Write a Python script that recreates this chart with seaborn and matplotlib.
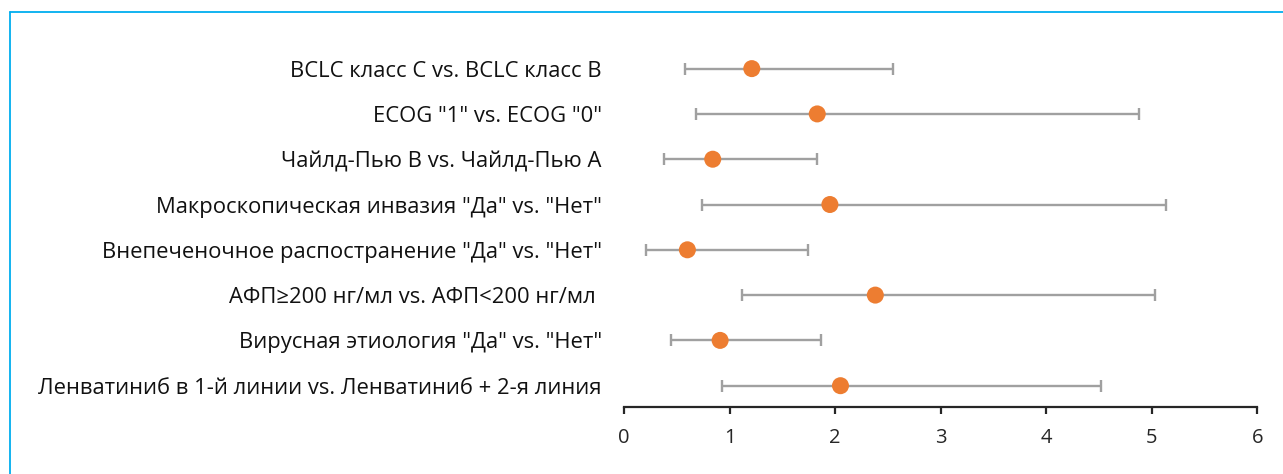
import matplotlib
matplotlib.use("Agg")
import matplotlib.pyplot as plt
import seaborn as sns
import pandas as pd
from matplotlib.lines import Line2D

# Forest plot data: hazard ratio with lower / upper bounds
factors = [
    'BCLC класс C vs. BCLC класс B',
    'ECOG "1" vs. ECOG "0"',
    'Чайлд-Пью В vs. Чайлд-Пью А',
    'Макроскопическая инвазия "Да" vs. "Нет"',
    'Внепеченочное распостранение "Да" vs. "Нет"',
    'АФП≥200 нг/мл vs. АФП<200 нг/мл ',
    'Вирусная этиология "Да" vs. "Нет"',
    'Ленватиниб в 1-й линии vs. Ленватиниб + 2-я линия',
]
hr = [1.21, 1.83, 0.84, 1.95, 0.60, 2.38, 0.91, 2.05]
ci_low = [0.58, 0.68, 0.38, 0.74, 0.21, 1.12, 0.44, 0.93]
ci_high = [2.55, 4.88, 1.83, 5.13, 1.74, 5.03, 1.87, 4.52]
x_ticks = [0, 1, 2, 3, 4, 5, 6]

df = pd.DataFrame({'factor': factors, 'hr': hr, 'low': ci_low, 'high': ci_high})

sns.set_theme(style="white")
plt.rcParams['font.family'] = ['Open Sans', 'DejaVu Sans']

fig = plt.figure(figsize=(12.83, 4.74), dpi=100)
ax = fig.add_axes([0.4864, 0.1414, 0.4937, 0.7616])

# confidence intervals
ax.errorbar(df['hr'], range(len(df)),
            xerr=[df['hr'] - df['low'], df['high'] - df['hr']],
            fmt='none', ecolor='#a0a0a0', elinewidth=1.7,
            capsize=4, capthick=1.7, zorder=2)

# point estimates
sns.scatterplot(data=df, x='hr', y='factor', ax=ax, color='#ed7d31',
                s=150, edgecolor='none', zorder=3, legend=False)

ax.set_xlim(0, 6)
ax.set_ylim(len(df) - 0.53, -0.5)
ax.set_xticks(x_ticks)
ax.set_xlabel('')
ax.set_ylabel('')

for side in ['top', 'right', 'left']:
    ax.spines[side].set_visible(False)
ax.spines['bottom'].set_color('#262626')
ax.spines['bottom'].set_linewidth(1.6)

ax.tick_params(axis='x', bottom=True, direction='out', length=5, width=1.6,
               color='#262626', labelsize=14.5, labelcolor='#262626', pad=10)
ax.tick_params(axis='y', left=False, labelsize=15.8, labelcolor='#111111', pad=10)

# blue frame lines (top and left)
top_y = 1 - 12 / 474
left_x = 10 / 1283
fig.add_artist(Line2D([left_x, 1], [top_y, top_y], transform=fig.transFigure,
                      color='#00aeef', linewidth=1.3))
fig.add_artist(Line2D([left_x, left_x], [0, top_y], transform=fig.transFigure,
                      color='#00aeef', linewidth=1.3))

fig.savefig('out.png', dpi=100)
